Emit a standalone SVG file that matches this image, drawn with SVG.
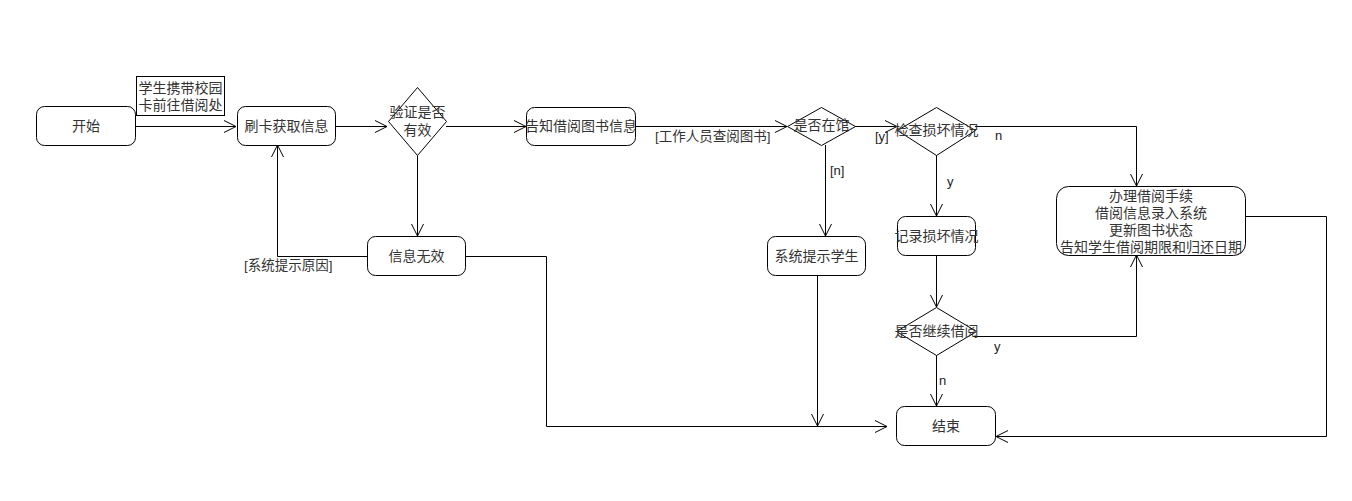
<svg xmlns="http://www.w3.org/2000/svg" width="1352" height="501" viewBox="0 0 1352 501">
<defs>
<marker id="arr" markerUnits="userSpaceOnUse" markerWidth="14" markerHeight="14" refX="12" refY="6" orient="auto" overflow="visible">
<path d="M0,0 L12,6 L0,12" fill="none" stroke="#000" stroke-width="1"/>
</marker>
<style>
.box{fill:#fff;stroke:#000;stroke-width:1}
.t{font-family:"Liberation Sans","Noto Sans CJK SC",sans-serif;font-size:14px;fill:#333;text-anchor:middle}
.lbl{font-family:"Liberation Sans","Noto Sans CJK SC",sans-serif;font-size:13.5px;fill:#333}
.lat{font-family:"Liberation Sans",Arial,sans-serif;font-size:13px;fill:#222}
.c{fill:none;stroke:#000;stroke-width:1}
</style>
</defs>
<rect width="1352" height="501" fill="#fff"/>
<g id="connectors">
<path class="c" d="M136,126.5 H236" marker-end="url(#arr)"/>
<path class="c" d="M335,126.5 H387" marker-end="url(#arr)"/>
<path class="c" d="M446,126.5 H526" marker-end="url(#arr)"/>
<path class="c" d="M636,126.5 H787" marker-end="url(#arr)"/>
<path class="c" d="M855,126.5 H897" marker-end="url(#arr)"/>
<path class="c" d="M975,126.5 H1136.5 V186" marker-end="url(#arr)"/>
<path class="c" d="M936.5,155 V216" marker-end="url(#arr)"/>
<path class="c" d="M936.5,255 V307" marker-end="url(#arr)"/>
<path class="c" d="M973,336.5 H1136.5 V255" marker-end="url(#arr)"/>
<path class="c" d="M936.5,355 V406" marker-end="url(#arr)"/>
<path class="c" d="M1246,216.5 H1326.5 V436.5 H996" marker-end="url(#arr)"/>
<path class="c" d="M825.5,145 V236" marker-end="url(#arr)"/>
<path class="c" d="M817.5,275 V426" marker-end="url(#arr)"/>
<path class="c" d="M417.5,155 V236" marker-end="url(#arr)"/>
<path class="c" d="M367,256.5 H277.5 V145" marker-end="url(#arr)"/>
<path class="c" d="M466,256.5 H546.5 V426.5 H887" marker-end="url(#arr)"/>
<text class="lbl" x="655" y="141">[工作人员查阅图书]</text>
<text class="lat" x="830" y="175">[n]</text>
<text class="lat" x="875" y="141">[y]</text>
<text class="lat" x="995" y="140">n</text>
<text class="lat" x="947" y="186">y</text>
<text class="lat" x="994" y="351">y</text>
<text class="lat" x="939" y="385">n</text>
<text class="lbl" x="244" y="270">[系统提示原因]</text>
</g>
<g id="note">
<rect class="box" x="136.5" y="76.5" width="88" height="39"/>
<text class="t" x="180.5" y="93">学生携带校园</text>
<text class="t" x="180.5" y="110">卡前往借阅处</text>
</g>
<g id="start">
<rect class="box" x="36.5" y="106.5" width="99" height="39" rx="8"/>
<text class="t" x="86" y="131">开始</text>
</g>
<g id="swipe">
<rect class="box" x="237.5" y="106.5" width="98" height="39" rx="8"/>
<text class="t" x="286.5" y="131">刷卡获取信息</text>
</g>
<g id="verify">
<path class="box" d="M417.5,87.5 L446.5,121.5 L417.5,155.5 L388.5,121.5 Z"/>
<text class="t" x="417.5" y="117">验证是否</text>
<text class="t" x="417.5" y="135">有效</text>
</g>
<g id="inform">
<rect class="box" x="526.5" y="107.5" width="109" height="38" rx="8"/>
<text class="t" x="581" y="131">告知借阅图书信息</text>
</g>
<g id="instock">
<path class="box" d="M821.5,107.5 L855.5,126.5 L821.5,145.5 L787.5,126.5 Z"/>
<text class="t" x="821.5" y="130">是否在馆</text>
</g>
<g id="checkdamage">
<path class="box" d="M936.5,107.5 L975.5,130.5 L936.5,155.5 L897.5,130.5 Z"/>
<text class="t" x="936.5" y="135">检查损坏情况</text>
</g>
<g id="borrow">
<rect class="box" x="1056.5" y="186.5" width="189" height="69" rx="12"/>
<text class="t" x="1151" y="201">办理借阅手续</text>
<text class="t" x="1151" y="218">借阅信息录入系统</text>
<text class="t" x="1151" y="235">更新图书状态</text>
<text class="t" x="1151" y="252">告知学生借阅期限和归还日期</text>
</g>
<g id="recorddamage">
<rect class="box" x="897.5" y="216.5" width="78" height="39" rx="8"/>
<text class="t" x="936.5" y="241">记录损坏情况</text>
</g>
<g id="invalid">
<rect class="box" x="367.5" y="236.5" width="98" height="39" rx="8"/>
<text class="t" x="416.5" y="261">信息无效</text>
</g>
<g id="notify">
<rect class="box" x="767.5" y="236.5" width="98" height="39" rx="8"/>
<text class="t" x="816.5" y="261">系统提示学生</text>
</g>
<g id="continue">
<path class="box" d="M936.5,307.5 L976.5,331.5 L936.5,355.5 L896.5,331.5 Z"/>
<text class="t" x="936.5" y="336">是否继续借阅</text>
</g>
<g id="end">
<rect class="box" x="896.5" y="406.5" width="99" height="39" rx="8"/>
<text class="t" x="946" y="431">结束</text>
</g>
</svg>
